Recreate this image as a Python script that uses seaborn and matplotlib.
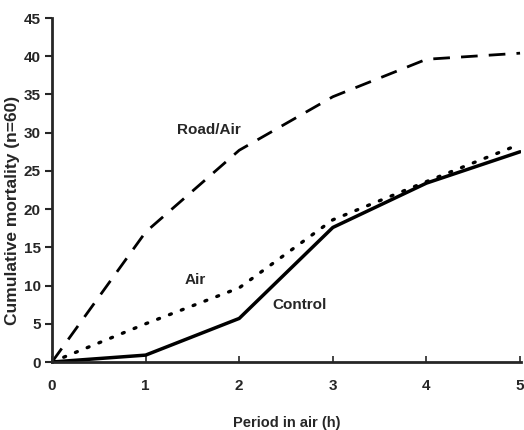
import matplotlib
matplotlib.use("Agg")
import matplotlib.pyplot as plt
import seaborn as sns
import pandas as pd

hours = [0, 1, 2, 3, 4, 5]
road_air = [0, 17.0, 27.7, 34.7, 39.6, 40.4]
air = [0, 5.0, 9.7, 18.6, 23.6, 28.5]
control = [0, 0.9, 5.7, 17.6, 23.4, 27.5]
x_ticks = [0, 1, 2, 3, 4, 5]
y_ticks = [0, 5, 10, 15, 20, 25, 30, 35, 40, 45]

sns.set_style("ticks")
plt.rcParams['font.family'] = ['Liberation Sans', 'DejaVu Sans']

fig = plt.figure(figsize=(5.24, 4.30), dpi=100)
ax = fig.add_axes([52/524, 1-362/430, (521-52)/524, (362-18)/430])

df = pd.DataFrame({"h": hours, "ra": road_air, "air": air, "c": control})
sns.lineplot(data=df, x="h", y="ra", ax=ax, color="black", lw=2.0,
             linestyle=(0, (6, 4)))
sns.lineplot(data=df, x="h", y="air", ax=ax, color="black", lw=2.4,
             linestyle=(0, (0.6, 3.2)), dash_capstyle="round")
sns.lineplot(data=df, x="h", y="c", ax=ax, color="black", lw=2.5)

ax.set_xlim(0, 5.01)
ax.set_ylim(0, 45)
ax.set_xticks(x_ticks)
ax.set_yticks(y_ticks)
ax.set_xticklabels([str(v) for v in x_ticks], fontsize=11, fontweight="bold")
ax.set_yticklabels([str(v) for v in y_ticks], fontsize=11, fontweight="bold")
ax.tick_params(axis="x", direction="in", length=4, width=1.2, pad=12)
ax.tick_params(axis="y", direction="out", length=5, width=1.5, pad=3)
for s in ["top", "right"]:
    ax.spines[s].set_visible(False)
for s in ["left", "bottom"]:
    ax.spines[s].set_linewidth(2.0)
ax.set_xlabel("Period in air (h)", fontsize=10.5, fontweight="bold", labelpad=17)
ax.set_ylabel("Cumulative mortality (n=60)", fontsize=12.5, fontweight="bold")
ax.yaxis.set_label_coords(-0.068, 0.44)

ax.text(1.34, 30.4, "Road/Air", fontsize=11, fontweight="bold", ha="left", va="center")
ax.text(1.42, 10.7, "Air", fontsize=11, fontweight="bold", ha="left", va="center")
ax.text(2.35, 7.5, "Control", fontsize=11, fontweight="bold", ha="left", va="center")

fig.savefig("out.png", dpi=100)
